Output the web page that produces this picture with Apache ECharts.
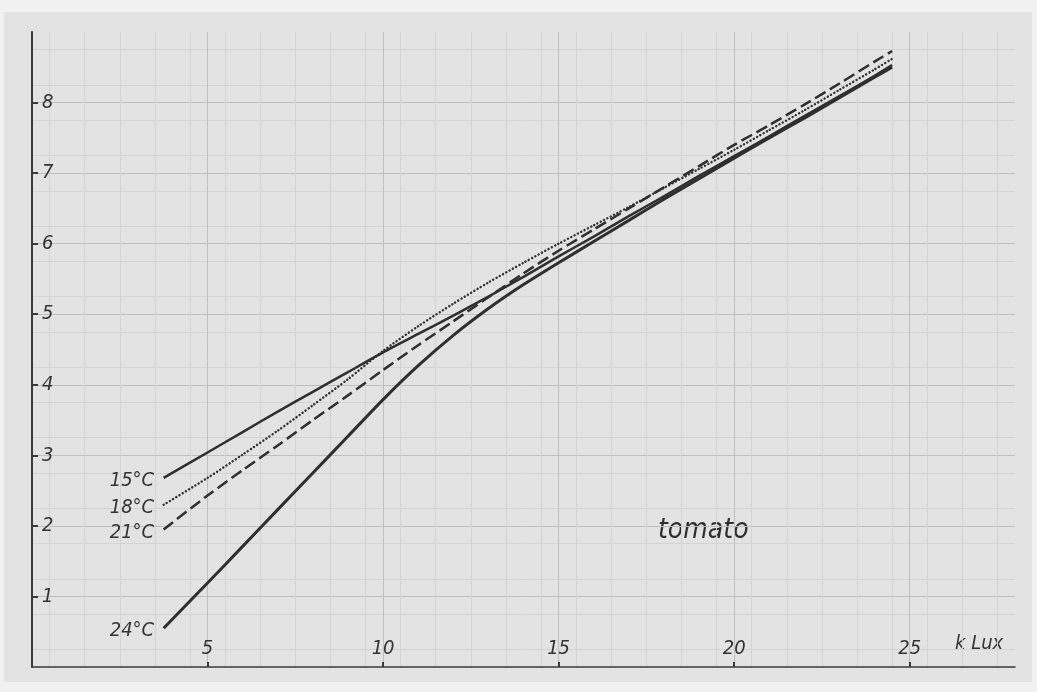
<!DOCTYPE html>
<html>
<head>
<meta charset="utf-8">
<script src="https://cdn.jsdelivr.net/npm/echarts@6/dist/echarts.min.js"></script>
<style>
  html, body { margin: 0; padding: 0; background: #f1f1f1; }
  #paper { position: absolute; left: 4px; top: 12px; width: 1028px; height: 670px; background: #e3e3e3; }
  #chart { position: absolute; left: 0; top: 0; width: 1037px; height: 692px; }
</style>
</head>
<body>
<div id="paper"></div>
<div id="chart"></div>
<script>
// ---- data ----
const kLux = [3.75, 5, 6, 7, 8, 9, 10, 11, 12, 13, 14, 15, 16, 17, 18, 19, 20, 21, 22, 23, 24, 24.5];
const temp15 = [2.68, 3.04, 3.33, 3.62, 3.90, 4.18, 4.46, 4.72, 4.98, 5.25, 5.53, 5.82, 6.10, 6.39, 6.67, 6.96, 7.24, 7.52, 7.81, 8.09, 8.38, 8.53];
const temp18 = [2.30, 2.68, 3.01, 3.35, 3.71, 4.08, 4.48, 4.83, 5.15, 5.45, 5.73, 6.00, 6.26, 6.52, 6.79, 7.06, 7.33, 7.61, 7.89, 8.18, 8.47, 8.62];
const temp21 = [1.95, 2.43, 2.79, 3.14, 3.50, 3.85, 4.21, 4.56, 4.90, 5.24, 5.58, 5.90, 6.20, 6.50, 6.80, 7.10, 7.40, 7.68, 7.97, 8.27, 8.58, 8.73];
const temp24 = [0.55, 1.19, 1.71, 2.23, 2.75, 3.27, 3.79, 4.27, 4.70, 5.08, 5.42, 5.73, 6.03, 6.33, 6.63, 6.92, 7.21, 7.50, 7.78, 8.07, 8.36, 8.50];
const seriesNames = ['15°C', '18°C', '21°C', '24°C'];
const xTickLabels = [5, 10, 15, 20, 25];
const yTickLabels = [1, 2, 3, 4, 5, 6, 7, 8];

const FONT = '"DejaVu Sans Condensed", "Liberation Sans Narrow", "DejaVu Sans", sans-serif';
const INK = '#2f2f2f';

function build(values, name, lineStyle) {
  const data = kLux.map((x, i) => {
    if (i === 0) {
      return {
        value: [x, values[i]],
        label: {
          show: true, position: 'left', distance: 9, offset: [0, 3],
          formatter: name, fontFamily: FONT, fontStyle: 'italic',
          fontSize: 20, color: '#333'
        }
      };
    }
    return [x, values[i]];
  });
  return {
    type: 'line', name: name, data: data,
    smooth: 0.25,
    symbol: 'circle', symbolSize: 1, showSymbol: true,
    itemStyle: { color: 'rgba(0,0,0,0)', borderWidth: 0 },
    label: { show: false },
    lineStyle: Object.assign({ color: INK, cap: 'butt', join: 'round' }, lineStyle),
    emphasis: { disabled: true },
    animation: false
  };
}

const chart = echarts.init(document.getElementById('chart'), null, { renderer: 'canvas' });
chart.setOption({
  backgroundColor: 'transparent',
  animation: false,
  grid: { left: 32, right: 22, top: 32, bottom: 25, containLabel: false },
  xAxis: {
    type: 'value', min: 0, max: 28, interval: 1,
    axisLine: { show: true, onZero: false, lineStyle: { color: '#3a3a3a', width: 1.5 } },
    axisTick: { show: true, inside: true, length: 5, customValues: xTickLabels, lineStyle: { color: '#3a3a3a', width: 2 } },
    axisLabel: { show: true, inside: true, margin: 8, customValues: xTickLabels,
      fontFamily: FONT, fontStyle: 'italic', fontSize: 20, color: '#333' },
    splitLine: { show: true, lineStyle: { color: '#bfbfbf', width: 1 } },
    minorTick: { show: false, splitNumber: 2 },
    minorSplitLine: { show: true, lineStyle: { color: '#d4d4d4', width: 1 } }
  },
  yAxis: {
    type: 'value', min: 0, max: 9, interval: 0.5,
    axisLine: { show: true, onZero: false, lineStyle: { color: '#3a3a3a', width: 2 } },
    axisTick: { show: true, inside: true, length: 6, customValues: yTickLabels, lineStyle: { color: '#3a3a3a', width: 2 } },
    axisLabel: { show: true, inside: true, margin: 10, customValues: yTickLabels,
      fontFamily: FONT, fontStyle: 'italic', fontSize: 20, color: '#333' },
    splitLine: { show: true, lineStyle: { color: '#bfbfbf', width: 1 } },
    minorTick: { show: false, splitNumber: 2 },
    minorSplitLine: { show: true, lineStyle: { color: '#d4d4d4', width: 1 } }
  },
  graphic: [
    { type: 'text', left: 658, top: 517, style: { text: 'tomato', fill: '#2e2e2e',
      font: 'italic 500 28px ' + FONT } },
    { type: 'text', left: 955, top: 634, style: { text: 'k Lux', fill: '#333',
      font: 'italic 20px ' + FONT } }
  ],
  series: [
    build(temp15, seriesNames[0], { width: 2.5, type: 'solid' }),
    build(temp18, seriesNames[1], { width: 2.4, type: [0.1, 3.6], cap: 'round' }),
    build(temp21, seriesNames[2], { width: 2.5, type: [12, 5] }),
    build(temp24, seriesNames[3], { width: 3, type: 'solid' })
  ]
});
</script>
</body>
</html>
